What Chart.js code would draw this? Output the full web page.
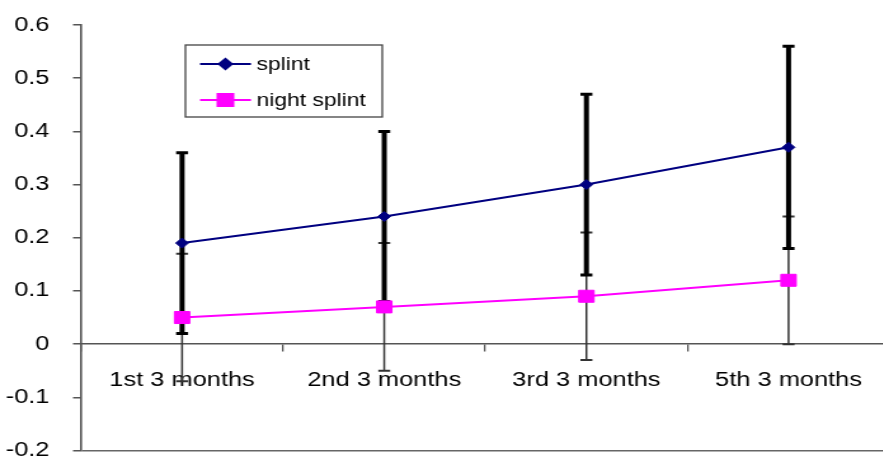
<!DOCTYPE html>
<html>
<head>
<meta charset="utf-8">
<script src="https://cdn.jsdelivr.net/npm/chart.js@4.4.0/dist/chart.umd.min.js"></script>
<style>
  html, body { margin: 0; padding: 0; background: #fff; overflow: hidden; }
  /* the plot is drawn narrow and then stretched sideways */
  #wrap { width: 710px; height: 460px; transform: scaleX(1.27); transform-origin: 0 0; }
</style>
</head>
<body>
<div id="wrap"><canvas id="myChart" width="710" height="460"></canvas></div>
<script>
var categories = ['1st 3 months', '2nd 3 months', '3rd 3 months', '5th 3 months']
var splint = [0.19, 0.24, 0.30, 0.37]
var splintErr = [0.17, 0.16, 0.17, 0.19]
var nightSplint = [0.05, 0.07, 0.09, 0.12]
var nightErr = [0.12, 0.12, 0.12, 0.12]
var yMin = -0.2, yMax = 0.6, yStep = 0.1

var stretch = 1.27

Chart.defaults.font.family = "'Liberation Sans', Arial, sans-serif"
Chart.defaults.color = '#000'

// whiskers, drawn under the lines and markers
var errorBars = {
    id: 'errorBars',
    beforeDatasetsDraw(chart) {
        var ctx = chart.ctx
        var y = chart.scales.y
        // night splint first so the thick splint bars sit on top
        for (var i = chart.data.datasets.length - 1; i >= 0; i--) {
            var ds = chart.data.datasets[i]
            var meta = chart.getDatasetMeta(i)
            ctx.save()
            ctx.strokeStyle = ds.errColor
            meta.data.forEach((pt, j) => {
                var top = y.getPixelForValue(ds.data[j] + ds.err[j])
                var bot = y.getPixelForValue(ds.data[j] - ds.err[j])
                ctx.lineWidth = ds.errWidth
                ctx.beginPath()
                ctx.moveTo(pt.x, top)
                ctx.lineTo(pt.x, bot)
                ctx.stroke()
                ctx.lineWidth = ds.capWidth
                ctx.beginPath()
                ctx.moveTo(pt.x - 4.7, top); ctx.lineTo(pt.x + 4.7, top)
                ctx.moveTo(pt.x - 4.7, bot); ctx.lineTo(pt.x + 4.7, bot)
                ctx.stroke()
            })
            ctx.restore()
        }
    }
}

// boxed legend inside the plot
var boxLegend = {
    id: 'boxLegend',
    afterDraw(chart) {
        var ctx = chart.ctx
        ctx.save()
        ctx.strokeStyle = '#444'
        ctx.lineWidth = 1.3
        ctx.strokeRect(146, 45, 155, 72)
        chart.data.datasets.forEach((ds, i) => {
            var yy = 64 + i * 36
            ctx.strokeStyle = ds.borderColor
            ctx.fillStyle = ds.backgroundColor
            ctx.lineWidth = 2
            ctx.beginPath()
            ctx.moveTo(157.5, yy)
            ctx.lineTo(197.6, yy)
            ctx.stroke()
            Chart.helpers.drawPoint(ctx, {
                pointStyle: ds.pointStyle,
                radius: ds.pointRadius,
                rotation: 0,
                borderWidth: 1
            }, 177.5, yy)
            ctx.fillStyle = '#000'
            ctx.font = "18px 'Liberation Sans', Arial, sans-serif"
            ctx.textBaseline = 'middle'
            ctx.fillText(ds.label, 202, yy + 1)
        })
        ctx.restore()
    }
}

var ctx = document.getElementById('myChart')
var myChart = new Chart(ctx, {
    type: 'line',
    data: {
        labels: categories,
        datasets: [{
            label: 'splint',
            data: splint,
            err: splintErr,
            errColor: '#000',
            errWidth: 4,
            capWidth: 3,
            borderColor: '#000080',
            backgroundColor: '#000080',
            borderWidth: 2,
            pointStyle: 'rectRot',
            pointRadius: 5,
            pointBorderWidth: 1
        }, {
            label: 'night splint',
            data: nightSplint,
            err: nightErr,
            errColor: '#333',
            errWidth: 1.5,
            capWidth: 2,
            borderColor: '#ff00ff',
            backgroundColor: '#ff00ff',
            borderWidth: 2,
            pointStyle: 'rect',
            pointRadius: 8.5,
            pointBorderWidth: 1
        }]
    },
    options: {
        responsive: false,
        animation: false,
        layout: { padding: { top: 25, bottom: 3, left: 0, right: 1 } },
        plugins: {
            legend: { display: false },
            tooltip: { enabled: false }
        },
        scales: {
            x: {
                type: 'category',
                position: { y: 0 },
                offset: true,
                grid: { offset: true, drawOnChartArea: false, tickLength: 7, tickColor: '#555', lineWidth: 1.3 },
                border: { color: '#555', width: 1.5 },
                ticks: { font: { size: 20 }, color: '#000', padding: 17, maxRotation: 0, autoSkip: false }
            },
            y: {
                min: yMin,
                max: yMax,
                ticks: {
                    stepSize: yStep,
                    font: { size: 20 },
                    color: '#000',
                    padding: 18.5,
                    callback: v => Math.abs(v) < 1e-9 ? '0' : v.toFixed(1)
                },
                grid: {
                    color: c => c.tick && Math.abs(c.tick.value - yMin) < 1e-9 ? '#666' : 'rgba(0,0,0,0)',
                    tickColor: '#555',
                    tickLength: 6.3,
                    lineWidth: 1.5
                },
                border: { color: '#555', width: 1.6 },
                afterFit: s => {
                    s.width = 81 / stretch
                    s.paddingTop = 0
                    s.paddingBottom = 0
                }
            }
        }
    },
    plugins: [errorBars, boxLegend]
})
</script>
</body>
</html>
